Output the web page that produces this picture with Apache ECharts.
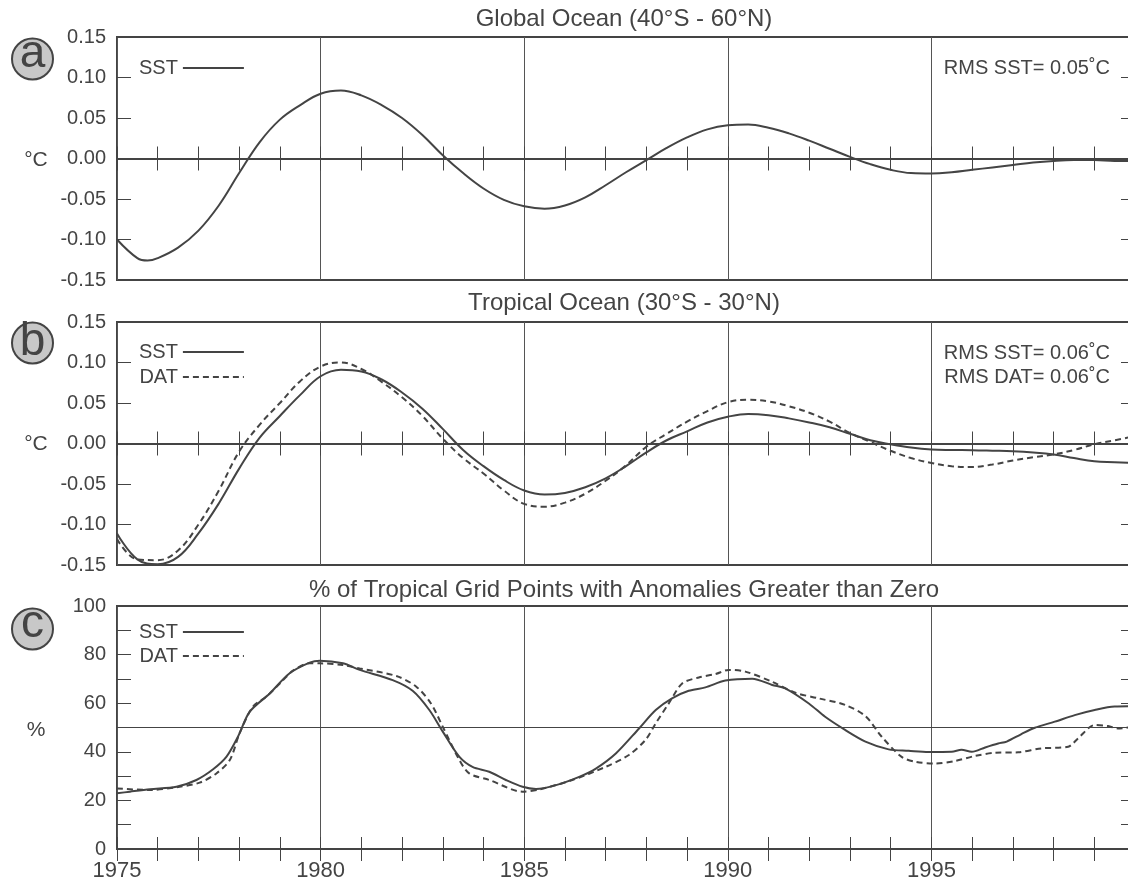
<!DOCTYPE html>
<html lang="en" style="height: 100%">
<head>
  <meta charset="utf-8">
  <title>Ocean SST / DAT anomalies</title>
  <style>
    body {
      margin: 0;
      background: #fff;
    }
    #container {
      width: 1128px;
      height: 884px;
    }
  </style>
</head>
<body style="height: 100%">
  <div id="container"></div>

  <script type="text/javascript" src="https://fastly.jsdelivr.net/npm/echarts@6/dist/echarts.min.js"></script>

  <script type="text/javascript">
    // (a) Global Ocean SST, half-year steps from 1975
    var aYears = [1975.0, 1975.5, 1975.75, 1976.0, 1976.5, 1977.0, 1977.5, 1978.0, 1978.5, 1979.0, 1979.5, 1980.0, 1980.5, 1981.0, 1981.5, 1982.0, 1982.5, 1983.0, 1983.5, 1984.0, 1984.5, 1985.0, 1985.5, 1986.0, 1986.5, 1987.0, 1987.5, 1988.0, 1988.5, 1989.0, 1989.5, 1990.0, 1990.5, 1991.0, 1991.5, 1992.0, 1992.5, 1993.0, 1993.5, 1994.0, 1994.5, 1995.0, 1995.5, 1996.0, 1996.5, 1997.0, 1997.5, 1998.0, 1998.5, 1999.0, 1999.5, 2000.0];
    var aSST = [-0.100, -0.123, -0.126, -0.123, -0.110, -0.089, -0.058, -0.018, 0.020, 0.048, 0.066, 0.080, 0.084, 0.078, 0.066, 0.050, 0.029, 0.004, -0.018, -0.037, -0.051, -0.059, -0.062, -0.058, -0.048, -0.033, -0.017, -0.002, 0.013, 0.026, 0.036, 0.041, 0.042, 0.038, 0.031, 0.022, 0.012, 0.002, -0.007, -0.014, -0.018, -0.0185, -0.017, -0.014, -0.011, -0.008, -0.005, -0.003, -0.002, -0.002, -0.003, -0.003];

    // (b) Tropical Ocean SST and DAT, half-year steps
    var bYears = [1975.0, 1975.5, 1976.0, 1976.5, 1977.0, 1977.5, 1978.0, 1978.5, 1979.0, 1979.5, 1980.0, 1980.5, 1981.0, 1981.5, 1982.0, 1982.5, 1983.0, 1983.5, 1984.0, 1984.5, 1985.0, 1985.5, 1986.0, 1986.5, 1987.0, 1987.5, 1988.0, 1988.5, 1989.0, 1989.5, 1990.0, 1990.5, 1991.0, 1991.5, 1992.0, 1992.5, 1993.0, 1993.5, 1994.0, 1994.5, 1995.0, 1995.5, 1996.0, 1996.5, 1997.0, 1997.5, 1998.0, 1998.5, 1999.0, 1999.5, 2000.0];
    var bSST = [-0.111, -0.143, -0.149, -0.140, -0.111, -0.074, -0.031, 0.007, 0.034, 0.060, 0.083, 0.091, 0.089, 0.079, 0.063, 0.043, 0.018, -0.008, -0.028, -0.045, -0.058, -0.063, -0.061, -0.054, -0.043, -0.028, -0.011, 0.004, 0.015, 0.026, 0.033, 0.0365, 0.035, 0.031, 0.026, 0.020, 0.012, 0.004, -0.001, -0.005, -0.0074, -0.008, -0.0082, -0.0088, -0.0095, -0.011, -0.0135, -0.018, -0.022, -0.023, -0.024];
    var bDAT = [-0.118, -0.143, -0.144, -0.132, -0.100, -0.058, -0.010, 0.023, 0.050, 0.077, 0.095, 0.100, 0.092, 0.076, 0.057, 0.034, 0.006, -0.018, -0.037, -0.058, -0.0745, -0.078, -0.073, -0.062, -0.046, -0.027, -0.004, 0.012, 0.027, 0.040, 0.051, 0.054, 0.052, 0.046, 0.038, 0.027, 0.013, 0.002, -0.009, -0.018, -0.024, -0.028, -0.029, -0.026, -0.021, -0.017, -0.0135, -0.008, -0.001, 0.004, 0.009];

    // (c) % of tropical grid points with anomalies > 0
    var cSstYears = [1975.0, 1975.32, 1975.81, 1976.46, 1976.95, 1977.36, 1977.69, 1977.97, 1978.26, 1978.75, 1979.24, 1979.73, 1979.98, 1980.55, 1980.96, 1981.77, 1982.26, 1982.67, 1983.0, 1983.41, 1983.73, 1984.14, 1984.55, 1984.96, 1985.29, 1985.78, 1986.35, 1986.76, 1987.25, 1987.82, 1988.23, 1988.63, 1989.04, 1989.45, 1989.94, 1990.6, 1991.09, 1991.41, 1991.99, 1992.39, 1992.88, 1993.38, 1993.95, 1994.44, 1994.93, 1995.5, 1995.74, 1995.99, 1996.32, 1996.64, 1996.85, 1997.21, 1997.54, 1998.03, 1998.52, 1999.01, 1999.5, 1999.95];
    var cSST = [22.9, 23.6, 24.6, 25.6, 28.4, 32.8, 38.0, 46.2, 56.5, 64.0, 72.3, 76.7, 77.5, 76.4, 73.7, 69.5, 65.1, 57.2, 48.3, 37.9, 33.8, 31.8, 28.4, 25.6, 24.7, 26.3, 29.7, 33.1, 39.3, 49.6, 57.2, 62.0, 65.1, 66.5, 69.3, 70.1, 67.5, 66.1, 59.9, 54.4, 49.0, 44.2, 41.0, 40.4, 39.9, 40.0, 40.8, 40.0, 41.8, 43.4, 44.2, 47.3, 49.9, 52.4, 55.1, 57.2, 58.6, 58.7];
    var cDatYears = [1975.0, 1975.81, 1976.46, 1977.03, 1977.44, 1977.77, 1978.01, 1978.34, 1978.67, 1979.08, 1979.32, 1979.73, 1979.98, 1980.55, 1980.96, 1981.86, 1982.35, 1982.71, 1983.0, 1983.41, 1983.65, 1984.14, 1984.96, 1985.37, 1986.18, 1987.0, 1987.57, 1987.98, 1988.23, 1988.55, 1988.88, 1989.29, 1989.7, 1990.02, 1990.43, 1991.09, 1991.66, 1992.23, 1992.88, 1993.38, 1993.78, 1994.27, 1994.6, 1995.09, 1995.58, 1996.07, 1996.56, 1997.13, 1997.7, 1998.36, 1998.6, 1999.01, 1999.34, 1999.58, 1999.95];
    var cDAT = [24.9, 24.3, 25.4, 27.3, 31.1, 36.6, 47.6, 58.6, 62.7, 69.5, 73.4, 76.4, 76.4, 75.7, 74.3, 71.2, 66.8, 59.9, 50.3, 36.6, 31.1, 28.4, 23.6, 24.5, 28.4, 33.8, 38.7, 44.9, 51.7, 59.9, 68.1, 70.6, 72.0, 73.7, 73.0, 68.8, 64.3, 62.0, 59.3, 54.7, 46.2, 37.9, 35.9, 35.2, 36.2, 38.3, 39.6, 39.8, 41.4, 42.1, 45.5, 51.0, 50.6, 49.6, 50.3];

    var panelTitles = ['Global Ocean (40°S - 60°N)', 'Tropical Ocean (30°S - 30°N)', '% of Tropical Grid Points with Anomalies Greater than Zero'];

    var FONT = '"Liberation Sans", Arial, Helvetica, sans-serif';
    var INK = '#444';

    function pairs(xs, ys) {
      var out = [];
      for (var i = 0; i < xs.length; i++) out.push([xs[i], ys[i]]);
      return out;
    }

    var dom = document.getElementById('container');
    var myChart = echarts.init(dom, null, { renderer: 'canvas' });

    // three stacked boxes; the right edge (year 2000) sits just past the canvas
    var gridTops = [37, 322, 606];
    var grids = gridTops.map(function (t) {
      return {
        left: 117, top: t, width: 1018, height: 243,
        outerBoundsMode: 'none', containLabel: false,
        show: true, borderColor: INK, borderWidth: 2, backgroundColor: 'transparent'
      };
    });

    var xAxes = [];
    var yAxes = [];
    for (var g = 0; g < 3; g++) {
      // bottom x axis
      xAxes.push({
        type: 'value', gridIndex: g, position: 'bottom',
        min: 1975, max: 2000, interval: 5,
        axisLine: { show: false },
        axisTick: { show: true, inside: true, length: 12, lineStyle: { color: INK, width: 1 } },
        minorTick: { show: true, splitNumber: 5, length: 12, lineStyle: { color: INK, width: 1 } },
        splitLine: { show: true, lineStyle: { color: '#555', width: 1 } },
        axisLabel: {
          show: g === 2, margin: 11, color: INK, fontSize: 22, fontFamily: FONT,
          formatter: function (v) { return v < 2000 ? String(v) : ''; }
        }
      });
      // top x axis, ticks only
      xAxes.push({
        type: 'value', gridIndex: g, position: 'top',
        min: 1975, max: 2000, interval: 5,
        axisLine: { show: false },
        axisTick: { show: true, inside: true, length: 12, lineStyle: { color: INK, width: 1 } },
        minorTick: { show: true, splitNumber: 5, length: 12, lineStyle: { color: INK, width: 1 } },
        splitLine: { show: false },
        axisLabel: { show: false }
      });

      var isPct = g === 2;
      var yBase = {
        type: 'value', gridIndex: g,
        min: isPct ? 0 : -0.15, max: isPct ? 100 : 0.15, interval: isPct ? 10 : 0.05,
        axisLine: { show: false },
        axisTick: { show: true, inside: true, length: 14, lineStyle: { color: INK, width: 1 } },
        splitLine: { show: false }
      };
      yAxes.push(Object.assign({}, yBase, {
        position: 'left',
        axisLabel: {
          margin: 11, color: INK, fontSize: 20, fontFamily: FONT,
          formatter: isPct
            ? function (v) { return Math.round(v) % 20 === 0 ? String(Math.round(v)) : ''; }
            : function (v) { return (Math.abs(v) < 1e-9 ? 0 : v).toFixed(2); }
        }
      }));
      yAxes.push(Object.assign({}, yBase, {
        position: 'right',
        axisLabel: { show: false }
      }));
    }

    var solid = { color: INK, width: 2, type: 'solid' };
    var dashed = { color: INK, width: 2, type: [6, 4] };

    function refLine(value, width) {
      return {
        silent: true, symbol: 'none', animation: false,
        label: { show: false },
        lineStyle: { color: INK, width: width, type: 'solid' },
        data: [{ yAxis: value }]
      };
    }

    var series = [
      { name: 'SST', type: 'line', xAxisIndex: 0, yAxisIndex: 0, data: pairs(aYears, aSST),
        symbol: 'none', smooth: 0.4, lineStyle: solid, itemStyle: { color: INK }, markLine: refLine(0, 2) },
      { name: 'SST', type: 'line', xAxisIndex: 2, yAxisIndex: 2, data: pairs(bYears, bSST),
        symbol: 'none', smooth: 0.4, lineStyle: solid, itemStyle: { color: INK }, markLine: refLine(0, 2) },
      { name: 'DAT', type: 'line', xAxisIndex: 2, yAxisIndex: 2, data: pairs(bYears, bDAT),
        symbol: 'none', smooth: 0.4, lineStyle: dashed, itemStyle: { color: INK } },
      { name: 'SST', type: 'line', xAxisIndex: 4, yAxisIndex: 4, data: pairs(cSstYears, cSST),
        symbol: 'none', smooth: 0.3, lineStyle: solid, itemStyle: { color: INK }, markLine: refLine(50, 1) },
      { name: 'DAT', type: 'line', xAxisIndex: 4, yAxisIndex: 4, data: pairs(cDatYears, cDAT),
        symbol: 'none', smooth: 0.3, lineStyle: dashed, itemStyle: { color: INK } }
    ];

    // legend: text first, then a plain line sample (no marker)
    var legendText = { color: INK, fontSize: 20, fontFamily: FONT };
    var legendBase = {
      padding: 0, align: 'right', itemWidth: 61, itemHeight: 14, selectedMode: false,
      itemStyle: { color: 'rgba(0,0,0,0)', borderWidth: 0 },
      textStyle: legendText
    };
    var legends = [
      Object.assign({ data: ['SST'], left: 139, top: 58 }, legendBase),
      Object.assign({ data: ['SST', 'DAT'], orient: 'vertical', left: 139, top: 342, itemGap: 5 }, legendBase),
      Object.assign({ data: ['SST', 'DAT'], orient: 'vertical', left: 139, top: 622, itemGap: 4 }, legendBase)
    ];

    // panel letters, titles, unit labels, RMS notes
    var graphics = [];
    var titleY = [19, 303, 590];
    var circleY = [59, 343, 629];
    var letters = ['a', 'b', 'c'];
    var letterShift = [-5, -1, -5];
    for (var k = 0; k < 3; k++) {
      graphics.push({
        type: 'text', x: 624, y: titleY[k],
        style: { text: panelTitles[k], fill: INK, font: '24px ' + FONT, align: 'center', verticalAlign: 'middle' }
      });
      graphics.push({
        type: 'circle', shape: { cx: 32.5, cy: circleY[k], r: 20.5 },
        style: { fill: '#c8c8c8', stroke: INK, lineWidth: 2 }
      });
      graphics.push({
        type: 'text', x: 32.5, y: circleY[k] + letterShift[k],
        style: { text: letters[k], fill: INK, font: '46px ' + FONT, align: 'center', verticalAlign: 'middle' }
      });
    }
    var unitLabels = [['°C', 160], ['°C', 444], ['%', 730]];
    unitLabels.forEach(function (u) {
      graphics.push({
        type: 'text', x: 36, y: u[1],
        style: { text: u[0], fill: INK, font: '21px ' + FONT, align: 'center', verticalAlign: 'middle' }
      });
    });
    var rmsNotes = [['RMS SST= 0.05˚C', 68], ['RMS SST= 0.06˚C', 353], ['RMS DAT= 0.06˚C', 377]];
    rmsNotes.forEach(function (r) {
      graphics.push({
        type: 'text', x: 1110, y: r[1],
        style: { text: r[0], fill: INK, font: '20px ' + FONT, align: 'right', verticalAlign: 'middle' }
      });
    });

    var option = {
      animation: false,
      backgroundColor: '#fff',
      grid: grids,
      xAxis: xAxes,
      yAxis: yAxes,
      legend: legends,
      series: series,
      graphic: graphics
    };

    myChart.setOption(option);
    window.addEventListener('resize', myChart.resize);
  </script>
</body>
</html>
